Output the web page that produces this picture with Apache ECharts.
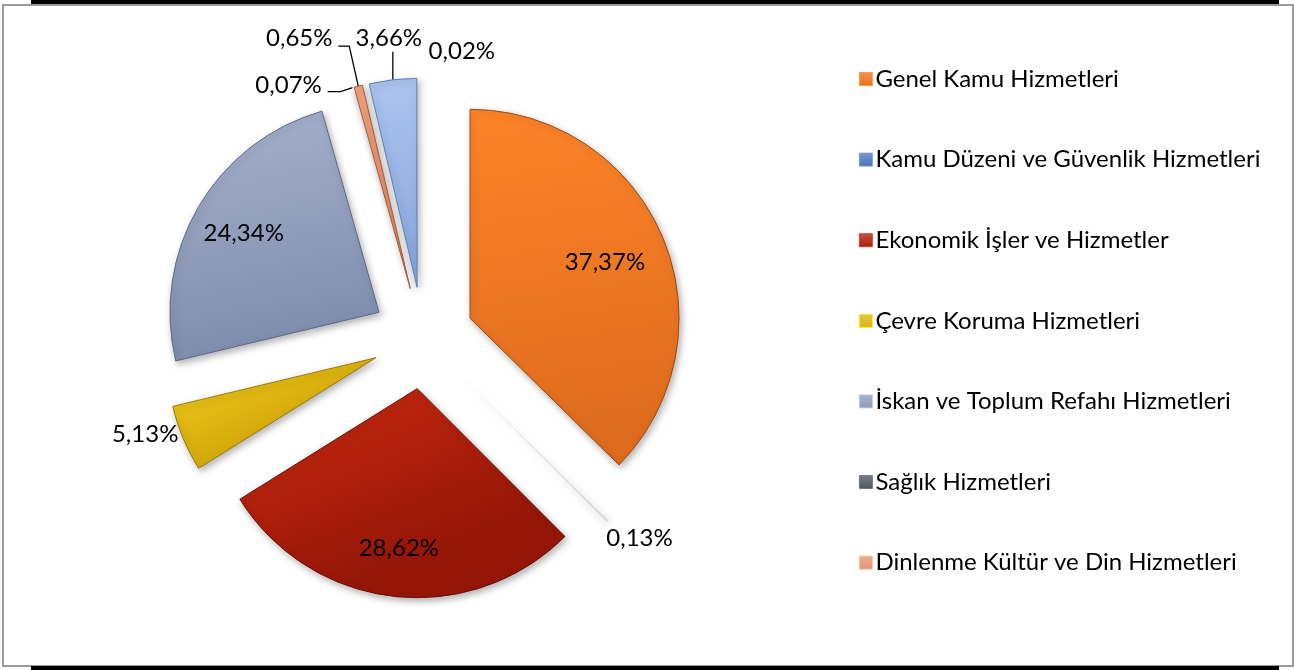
<!DOCTYPE html>
<html>
<head>
<meta charset="utf-8">
<script src="https://cdn.jsdelivr.net/npm/echarts@6/dist/echarts.min.js"></script>
<style>
  html, body { margin: 0; padding: 0; background: #fff; }
  #chart { width: 1295px; height: 670px; }
</style>
</head>
<body>
<div id="chart"></div>
<script>
// Functional classification of expenditure shares (percent)
const categories = [
  'Genel Kamu Hizmetleri',
  'Kamu Düzeni ve Güvenlik Hizmetleri',
  'Ekonomik İşler ve Hizmetler',
  'Çevre Koruma Hizmetleri',
  'İskan ve Toplum Refahı Hizmetleri',
  'Sağlık Hizmetleri',
  'Dinlenme Kültür ve Din Hizmetleri',
  'Eğitim Hizmetleri',
  'Sosyal Güvenlik ve Sosyal Yardım Hizmetleri'
];
const shares = [37.37, 0.13, 28.62, 5.13, 24.34, 0.07, 0.65, 3.66, 0.02];
// Only the first seven categories fit in the legend box
const legendCategories = categories.slice(0, 7);

// Slice fills: [top, bottom, edge, edge width]
const sliceColors = [
  ['#fd8428', '#dd6a1d', '#9c4a12', 1],
  ['#efefef', '#d6d6d6', '#d0d0d0', 0],
  ['#cb2a10', '#951607', '#6a0f04', 1],
  ['#f5ce1b', '#d0a50a', '#9a7a05', 1],
  ['#a6b2cd', '#7e8cad', '#5d6986', 1],
  ['#f6f6f6', '#e8e8e8', '#e8e8e8', 0],
  ['#f2a47e', '#d97f58', '#a65c3c', 1],
  ['#abc5ef', '#86a5dc', '#5f80b6', 1],
  ['#f8f8f8', '#f0f0f0', '#f0f0f0', 0]
];
const legendColors = ['#e9711b', '#4b75bb', '#ad1d0b', '#dbb30f', '#8d9ab9', '#4f535b', '#e39373'];

// Label placement per slice: inside labels give a radial fraction,
// outside labels give an offset from the outer arc point and optional leader bends.
const labelPlacement = [
  { inside: 0.70 },
  { dx: 32, dy: 17 },
  { inside: 0.77 },
  { dx: -38, dy: -4 },
  { inside: 0.75 },
  { dx: -64, dy: -2, line: [[-12, 4], [-25, 4]] },
  { dx: -59, dy: -48, line: [[-9, -40], [-20, -40]] },
  { dx: -4, dy: -41, line: [[0, -28]] },
  { dx: 39, dy: -27 }
];

const CX = 423, CY = 338, R = 209, EXPLODE = 51;
const total = shares.reduce((a, b) => a + b, 0);

function gradient(c) {
  return {
    type: 'linear', x: 0, y: 0, x2: 0.25, y2: 1,
    colorStops: [{ offset: 0, color: c[0] }, { offset: 1, color: c[1] }]
  };
}
function fmt(v) { return v.toFixed(2).replace('.', ',') + '%'; }

const FONT = 'Lato, "Liberation Sans", sans-serif';
const FONT_SIZE = 24;
const series = [];
let cum = 0;
shares.forEach((v, k) => {
  const midDeg = 90 - (cum + v / 2) / total * 360;
  cum += v;
  const a = midDeg * Math.PI / 180;
  const ux = Math.cos(a), uy = -Math.sin(a);
  const cx = CX + EXPLODE * ux, cy = CY + EXPLODE * uy;
  const place = labelPlacement[k];
  const ox = cx + R * ux, oy = cy + R * uy;

  const data = categories.map((name, j) => {
    if (j !== k) {
      return {
        name, value: shares[j],
        itemStyle: { color: 'rgba(0,0,0,0)', borderWidth: 0, shadowBlur: 0, shadowColor: 'rgba(0,0,0,0)' },
        label: { show: false }, labelLine: { show: false }
      };
    }
    return {
      name, value: v,
      itemStyle: {
        color: gradient(sliceColors[k]),
        borderColor: sliceColors[k][2],
        borderWidth: sliceColors[k][3],
        shadowBlur: 7,
        shadowOffsetX: 2,
        shadowOffsetY: 3,
        shadowColor: 'rgba(0,0,0,0.3)'
      },
      label: {
        show: true,
        position: place.inside ? 'inside' : 'outside',
        formatter: () => fmt(v),
        color: '#000',
        fontSize: FONT_SIZE,
        fontFamily: FONT
      },
      labelLine: { show: !!place.line, lineStyle: { color: '#000', width: 1.3 } }
    };
  });

  series.push({
    type: 'pie',
    center: [cx, cy],
    radius: R,
    startAngle: 90,
    clockwise: true,
    avoidLabelOverlap: false,
    silent: true,
    animation: false,
    emphasis: { disabled: true },
    data,
    labelLayout: function (p) {
      if (p.dataIndex !== k) return {};
      if (place.inside) {
        return {
          x: cx + R * place.inside * ux,
          y: cy + R * place.inside * uy,
          align: 'center', verticalAlign: 'middle'
        };
      }
      const out = {
        x: ox + place.dx, y: oy + place.dy,
        align: 'center', verticalAlign: 'middle'
      };
      if (place.line) {
        out.labelLinePoints = [[ox, oy]].concat(place.line.map(q => [ox + q[0], oy + q[1]]));
      }
      return out;
    }
  });
});

const chart = echarts.init(document.getElementById('chart'), null, { renderer: 'canvas' });
chart.setOption({
  backgroundColor: '#fff',
  animation: false,
  legend: {
    orient: 'vertical',
    left: 854,
    top: 61,
    itemWidth: 13,
    itemHeight: 13,
    itemGap: 54.6,
    selectedMode: false,
    icon: 'rect',
    textStyle: { fontSize: FONT_SIZE, lineHeight: 26, color: '#000', fontFamily: FONT, padding: [0, 0, 0, -2] },
    data: legendCategories.map((name, i) => ({
      name,
      itemStyle: {
        color: {
          type: 'linear', x: 0, y: 0, x2: 0, y2: 1,
          colorStops: [
            { offset: 0, color: echarts.color.lift(legendColors[i], 0.25) },
            { offset: 1, color: legendColors[i] }
          ]
        },
        borderColor: echarts.color.lift(legendColors[i], -0.3),
        borderWidth: 0.8
      }
    }))
  },
  graphic: [
    { type: 'rect', left: 31, top: 0, shape: { width: 1248, height: 4 }, style: { fill: '#000' }, silent: true },
    { type: 'rect', left: 31, top: 666, shape: { width: 1248, height: 4 }, style: { fill: '#000' }, silent: true },
    { type: 'rect', shape: { x: 3, y: 5, width: 1290, height: 661 }, style: { fill: 'none', stroke: '#9a9a9a', lineWidth: 2 }, silent: true, z: -1 }
  ],
  series
});
</script>
</body>
</html>
